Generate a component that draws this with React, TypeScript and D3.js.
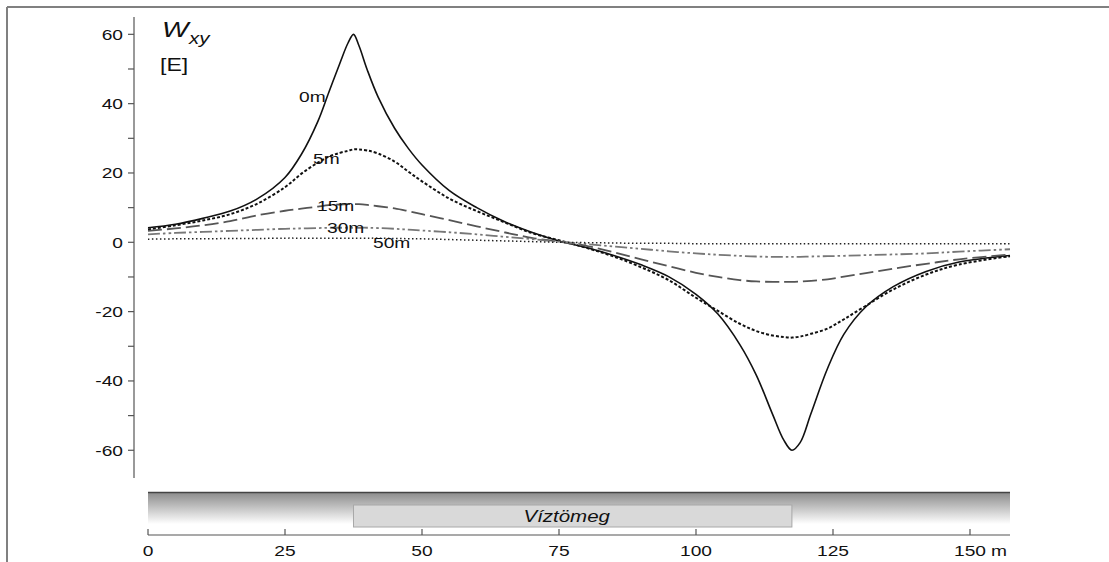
import React from "react";
import * as d3 from "d3";

// distance along profile (m)
const xs = [0, 5, 10, 15, 20, 25, 28, 31, 33, 35, 36.5, 37.5, 38.5, 40, 42, 45, 47.5, 50, 55, 60, 65, 70, 75, 80, 85, 90, 95, 100, 104, 108, 111, 114, 116, 117.5, 119, 121, 124, 127, 131, 136, 142, 148, 157.3];

// Wxy values (E) for each depth
const w0 = [4.2, 5.2, 6.9, 9.0, 12.6, 18.7, 25.4, 34.9, 43.3, 51.6, 57.5, 60, 56.7, 49.8, 41.9, 32.9, 27.1, 22.3, 14.9, 10.0, 6.0, 2.9, 0.4, -1.5, -3.8, -6.5, -9.9, -15.0, -20.7, -29.5, -38.3, -49.7, -57.0, -60, -57.8, -49.3, -36.4, -26.5, -18.6, -12.8, -8.4, -5.7, -3.8];
const w5 = [3.7, 4.9, 6.3, 8.1, 11.2, 15.9, 19.8, 23.0, 24.7, 25.8, 26.4, 26.8, 26.8, 26.5, 25.6, 23.3, 20.4, 17.6, 12.6, 9.0, 5.8, 2.7, 0.6, -1.6, -4.1, -7.2, -10.9, -16.0, -19.8, -23.5, -25.6, -26.9, -27.3, -27.5, -27.2, -26.4, -24.9, -22.2, -18.3, -13.6, -9.3, -6.4, -4.0];
const w15 = [3.3, 4.0, 4.9, 6.1, 7.8, 9.1, 9.7, 10.3, 10.7, 10.9, 11.0, 11.0, 11.0, 10.8, 10.4, 9.8, 9.0, 8.1, 6.4, 4.6, 2.9, 1.3, 0.2, -1.0, -2.9, -4.9, -6.9, -8.8, -10.0, -10.9, -11.3, -11.4, -11.4, -11.4, -11.3, -11.1, -10.7, -9.9, -8.9, -7.6, -6.2, -4.9, -3.5];
const w30 = [2.3, 2.7, 3.0, 3.3, 3.6, 3.9, 4.0, 4.1, 4.2, 4.2, 4.2, 4.2, 4.2, 4.2, 4.1, 3.9, 3.65, 3.4, 2.9, 2.3, 1.6, 0.9, 0.2, -0.5, -1.2, -1.9, -2.6, -3.2, -3.6, -3.9, -4.1, -4.2, -4.2, -4.2, -4.2, -4.1, -4.0, -3.9, -3.7, -3.5, -3.2, -2.7, -2.0];
const w50 = [0.9, 1.0, 1.0, 1.1, 1.1, 1.2, 1.2, 1.2, 1.2, 1.2, 1.2, 1.2, 1.2, 1.2, 1.2, 1.1, 1.05, 1.0, 0.8, 0.6, 0.4, 0.2, 0.0, -0.1, -0.2, -0.3, -0.3, -0.4, -0.4, -0.4, -0.4, -0.4, -0.4, -0.4, -0.4, -0.4, -0.4, -0.4, -0.4, -0.4, -0.4, -0.4, -0.4];

const depthLabels = ["0m", "5m", "15m", "30m", "50m"];
const yTicks = [-60, -40, -20, 0, 20, 40, 60];
const xTicks = [0, 25, 50, 75, 100, 125, 150];
const bodyRange = [37.5, 117.5];

const FONT = "Liberation Sans, Arial, Helvetica, sans-serif";
const SX = 1.28; // reference text is stretched horizontally

const styles = [
  { stroke: "#111", width: 1.6, dash: "" },
  { stroke: "#111", width: 2, dash: "3,2" },
  { stroke: "#555", width: 1.8, dash: "14,5" },
  { stroke: "#777", width: 1.8, dash: "12,3,2.5,3,2.5,3" },
  { stroke: "#222", width: 1.5, dash: "1.5,2.5" },
];

const labelPos = [
  { x: 299, y: 102 },
  { x: 313, y: 164 },
  { x: 317, y: 211 },
  { x: 327, y: 233 },
  { x: 373, y: 248 },
];

function T({ x, y, size, anchor = "start", italic = false, children }: any) {
  return (
    <text
      transform={`translate(${x},${y}) scale(${SX},1)`}
      fontSize={size}
      fontFamily={FONT}
      fontStyle={italic ? "italic" : "normal"}
      textAnchor={anchor}
      fill="#111"
    >
      {children}
    </text>
  );
}

export default function App() {
  const x = d3.scaleLinear().domain([0, 157.3]).range([148, 1010]);
  const y = d3.scaleLinear().domain([-68, 65]).range([478, 17]);

  const series = [w0, w5, w15, w30, w50];
  const line = d3
    .line<number>()
    .x((_, i) => x(xs[i]))
    .y((d) => y(d))
    .curve(d3.curveCatmullRom.alpha(0.5));

  const minor = d3.range(-60, 61, 10);

  return (
    <svg
      width={1109}
      height={562}
      style={{ position: "absolute", left: 0, top: 0, background: "#fff" }}
    >
      <defs>
        <linearGradient id="band" x1="0" y1="0" x2="0" y2="1">
          <stop offset="0%" stopColor="#8a8a8a" />
          <stop offset="100%" stopColor="#ffffff" />
        </linearGradient>
      </defs>

      {/* frame */}
      <line x1={7} y1={7} x2={1109} y2={7} stroke="#808080" strokeWidth={2} />
      <line x1={7} y1={7} x2={7} y2={562} stroke="#808080" strokeWidth={2} />

      {/* y axis */}
      <line x1={134} y1={17} x2={134} y2={478} stroke="#555" strokeWidth={1.2} />
      {minor.map((t) => (
        <line key={t} x1={128} x2={134} y1={y(t)} y2={y(t)} stroke="#555" strokeWidth={1.2} />
      ))}
      {yTicks.map((t) => (
        <T key={t} x={123} y={y(t) + 5.5} size={15} anchor="end">
          {t}
        </T>
      ))}

      {/* title */}
      <T x={162} y={37} size={22} italic>
        W
      </T>
      <T x={189} y={44} size={16} italic>
        xy
      </T>
      <T x={160} y={71} size={18}>
        [E]
      </T>

      {/* curves */}
      {series.map((s, i) => (
        <path
          key={i}
          d={line(s) || ""}
          fill="none"
          stroke={styles[i].stroke}
          strokeWidth={styles[i].width}
          strokeDasharray={styles[i].dash}
        />
      ))}
      {depthLabels.map((l, i) => (
        <T key={l} x={labelPos[i].x} y={labelPos[i].y} size={15}>
          {l}
        </T>
      ))}

      {/* profile band */}
      <rect x={x(0)} y={492} width={x(157.3) - x(0)} height={32} fill="url(#band)" />
      <line x1={x(0)} x2={x(157.3)} y1={492.5} y2={492.5} stroke="#444" strokeWidth={1.5} />
      <rect
        x={x(bodyRange[0])}
        y={505}
        width={x(bodyRange[1]) - x(bodyRange[0])}
        height={22}
        fill="#d9d9d9"
        stroke="#a8a8a8"
        strokeWidth={1}
      />
      <T x={(x(bodyRange[0]) + x(bodyRange[1])) / 2 - 6} y={522} size={16} anchor="middle" italic>
        Víztömeg
      </T>

      {/* x axis */}
      <line x1={x(0)} x2={x(157.3)} y1={535} y2={535} stroke="#555" strokeWidth={1.2} />
      {xTicks.map((t) => (
        <g key={t}>
          <line x1={x(t)} x2={x(t)} y1={529} y2={535} stroke="#555" strokeWidth={1.2} />
          <T x={x(t)} y={556} size={15} anchor="middle">
            {t}
          </T>
        </g>
      ))}
      <T x={x(150) + 21} y={556} size={15}>
        m
      </T>
    </svg>
  );
}
